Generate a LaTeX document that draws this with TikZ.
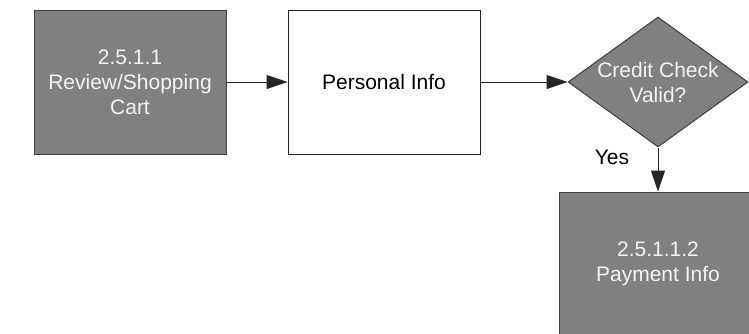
\documentclass[tikz,border=0pt]{standalone}
\usepackage{fontspec}
\setmainfont{Liberation Sans}
\usetikzlibrary{shapes.geometric,arrows.meta}

\definecolor{boxgray}{HTML}{808080}
\definecolor{edgegray}{HTML}{404040}
\definecolor{lighttext}{HTML}{F4F4F4}

\tikzset{
  flowfont/.style={font=\fontsize{21}{25}\selectfont, align=center},
  greybox/.style={rectangle, draw=edgegray, fill=boxgray, line width=1pt,
    minimum width=192pt, minimum height=144pt, inner sep=0pt,
    text=lighttext, flowfont},
  whitebox/.style={rectangle, draw=black!85, fill=white, line width=1pt,
    minimum width=192pt, minimum height=144pt, inner sep=0pt, flowfont},
  decision/.style={diamond, draw=edgegray, fill=boxgray, line width=1pt,
    minimum width=180pt, minimum height=130pt, inner sep=0pt},
  arr/.style={draw=black!85, line width=1pt,
    -{Triangle[length=21pt,width=14pt]}},
}

\begin{document}
\begin{tikzpicture}[x=1pt, y=-1pt]
  \useasboundingbox (0,0) rectangle (749,333);
  \clip (0,0) rectangle (749,333);

  % process boxes
  \node[greybox] (cart) at (130,82) {2.5.1.1\\Review/Shopping\\Cart};
  \node[whitebox] (info) at (384,82) {Personal Info};

  % decision
  \node[decision] (check) at (658,82) {};
  \node[flowfont, text=lighttext, inner sep=0pt] (checktxt) at (check.center) {Credit Check\\Valid?};

  % next step (runs past the lower and right edges)
  \node[greybox, minimum width=198pt] (pay) at (658,264) {2.5.1.1.2\\Payment Info};

  % connectors
  \draw[arr] (cart.east) -- (info.west);
  \draw[arr] (info.east) -- (check.west);
  \draw[arr] (check.south) -- (pay.north);
  \node[flowfont, inner sep=0pt] (yes) at (612,157) {Yes};
\end{tikzpicture}
\end{document}
